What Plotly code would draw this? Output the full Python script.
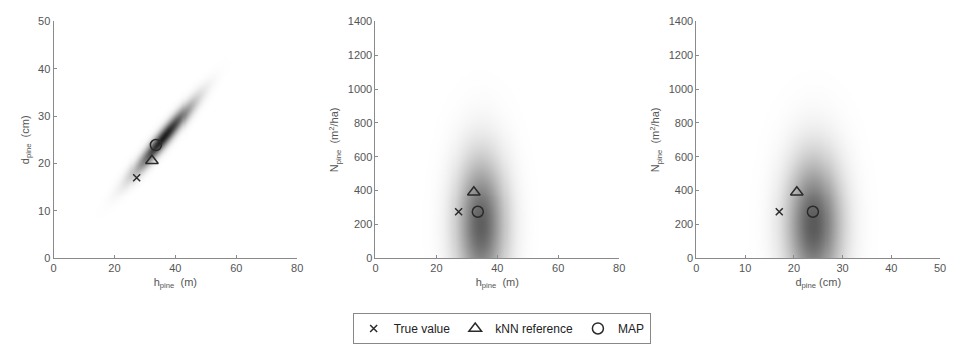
import numpy as np
import plotly.graph_objects as go

# --- data ---
# posterior density parameters per panel: (mean_x, mean_y, sd_x, sd_y, rho, peak darkness)
panel_names = ["h-d", "h-N", "d-N"]
dens_mean_x = [36.0, 34.5, 24.0]
dens_mean_y = [25.5, 200.0, 200.0]
dens_sd_x = [6.3, 5.6, 3.9]
dens_sd_y = [4.8, 270.0, 270.0]
dens_rho = [0.95, 0.0, 0.0]
dens_peak = [0.95, 0.68, 0.70]

x_ranges = [[0, 80], [0, 80], [0, 50]]
y_ranges = [[0, 50], [0, 1400], [0, 1400]]
x_ticks = [[0, 20, 40, 60, 80], [0, 20, 40, 60, 80], [0, 10, 20, 30, 40, 50]]
y_ticks = [[0, 10, 20, 30, 40, 50], [0, 200, 400, 600, 800, 1000, 1200, 1400],
           [0, 200, 400, 600, 800, 1000, 1200, 1400]]
x_titles = ["h<sub>pine</sub>  (m)", "h<sub>pine</sub>  (m)", "d<sub>pine</sub> (cm)"]
y_titles = ["d<sub>pine</sub>  (cm)", "N<sub>pine</sub>  (m<sup>2</sup>/ha)",
            "N<sub>pine</sub>  (m<sup>2</sup>/ha)"]

# point estimates (h, d, N)
true_value = [27.3, 17.0, 275]
knn_reference = [32.3, 20.6, 390]
map_estimate = [33.6, 23.9, 275]
panel_vars = [(0, 1), (0, 2), (1, 2)]

W, H = 957, 344
x_dom_px = [(51, 297), (376, 622), (700, 946)]
y_dom_px = (16, 263)

fig = go.Figure()
axis_col = "#8a8a8a"
text_col = "#555555"
font_family = "Liberation Sans, Arial, sans-serif"

for i in range(3):
    xs = np.linspace(x_ranges[i][0], x_ranges[i][1], 240)
    ys = np.linspace(y_ranges[i][0], y_ranges[i][1], 240)
    X, Y = np.meshgrid(xs, ys)
    zx = (X - dens_mean_x[i]) / dens_sd_x[i]
    zy = (Y - dens_mean_y[i]) / dens_sd_y[i]
    r = dens_rho[i]
    q = (zx ** 2 - 2 * r * zx * zy + zy ** 2) / (1 - r ** 2)
    Z = dens_peak[i] * np.exp(-0.5 * q)
    sfx = "" if i == 0 else str(i + 1)
    fig.add_trace(go.Heatmap(
        x=xs, y=ys, z=Z, zmin=0, zmax=1, zsmooth="best",
        colorscale=[[0, "#ffffff"], [0.5, "#8c8c8c"], [1, "#111111"]],
        showscale=False, hoverinfo="skip",
        xaxis="x" + sfx, yaxis="y" + sfx))
    vx, vy = panel_vars[i]
    for name, est, sym, size in [("True value", true_value, "x-thin-open", 7),
                                 ("kNN reference", knn_reference, "triangle-up-open", 11),
                                 ("MAP", map_estimate, "circle-open", 11)]:
        fig.add_trace(go.Scatter(
            x=[est[vx]], y=[est[vy]], mode="markers", name=name,
            marker=dict(symbol=sym, size=size, color="#2a2a2a", line=dict(width=1.5, color="#2a2a2a")),
            showlegend=(i == 0), xaxis="x" + sfx, yaxis="y" + sfx))

    common = dict(showgrid=False, zeroline=False, showline=True, linecolor=axis_col, linewidth=1,
                  ticks="inside", ticklen=3, tickcolor=axis_col,
                  tickfont=dict(size=11, color=text_col, family=font_family),
                  title_font=dict(size=11, color=text_col, family=font_family))
    x0, x1 = x_dom_px[i]
    fig.layout["xaxis" + sfx] = dict(
        common, domain=[x0 / W, x1 / W], range=x_ranges[i], tickvals=x_ticks[i],
        anchor="y" + sfx, title=dict(text=x_titles[i], standoff=4))
    fig.layout["yaxis" + sfx] = dict(
        common, domain=[1 - y_dom_px[1] / H, 1 - y_dom_px[0] / H], range=y_ranges[i],
        tickvals=y_ticks[i], anchor="x" + sfx, title=dict(text=y_titles[i], standoff=6))

fig.update_layout(
    width=W, height=H, margin=dict(l=0, r=0, t=0, b=0),
    paper_bgcolor="white", plot_bgcolor="white",
    font=dict(family=font_family, color="#333333", size=11),
    legend=dict(orientation="h", x=0.526, xanchor="center", y=1 - 320 / H, yanchor="top",
                bordercolor="#888888", borderwidth=1, bgcolor="white",
                font=dict(size=12, color="#222222", family=font_family),
                itemwidth=30, tracegroupgap=0),
)

fig.write_html("out.html")
